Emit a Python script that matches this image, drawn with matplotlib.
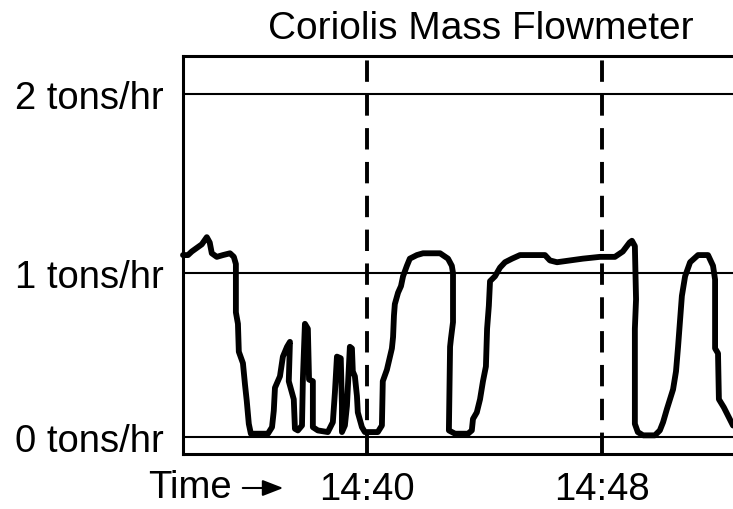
import numpy as np
import matplotlib
matplotlib.use("Agg")
import matplotlib.pyplot as plt
from matplotlib.patches import FancyArrowPatch

plt.rcParams['font.family'] = ['Liberation Sans', 'DejaVu Sans']

# time in minutes after 14:00
time_min = [33.74, 33.91, 34.04, 34.21, 34.38, 34.55, 34.65, 34.72, 34.89, 35.10,
            35.34, 35.47, 35.54, 35.54, 35.54, 35.61, 35.64, 35.78, 35.85, 35.91,
            35.98, 36.05, 36.63, 36.77, 36.83, 36.87, 37.04, 37.14, 37.28, 37.38,
            37.34, 37.51, 37.55, 37.65, 37.79, 37.82, 37.89, 37.99, 38.03, 38.16,
            38.16, 38.33, 38.67, 38.84, 38.91, 38.98, 39.11, 39.15, 39.15, 39.25,
            39.32, 39.42, 39.49, 39.52, 39.59, 39.66, 39.69, 39.83, 39.93, 40.37,
            40.51, 40.54, 40.68, 40.85, 40.89, 40.92, 40.95, 41.06, 41.16, 41.23,
            41.36, 41.46, 41.70, 41.91, 42.49, 42.76, 42.89, 42.93, 42.93, 42.86,
            42.83, 42.79, 43.00, 43.44, 43.57, 43.61, 43.74, 43.85, 43.95, 44.05,
            44.09, 44.15, 44.19, 44.36, 44.53, 44.70, 44.94, 45.21, 46.06, 46.23,
            46.47, 47.35, 47.93, 48.44, 48.71, 48.94, 49.02, 49.12, 49.16, 49.12,
            49.12, 49.22, 49.40, 49.80, 49.97, 50.08, 50.21, 50.42, 50.52, 50.59,
            50.66, 50.72, 50.83, 51.00, 51.27, 51.61, 51.78, 51.85, 51.85, 51.95,
            51.98, 52.15, 52.29, 52.46]
flow = [1.10, 1.10, 1.12, 1.14, 1.16, 1.20, 1.17, 1.11, 1.09, 1.10,
        1.11, 1.09, 1.05, 0.89, 0.76, 0.69, 0.52, 0.45, 0.32, 0.22,
        0.08, 0.02, 0.02, 0.06, 0.16, 0.30, 0.37, 0.49, 0.55, 0.58,
        0.34, 0.23, 0.05, 0.04, 0.07, 0.35, 0.69, 0.66, 0.35, 0.34,
        0.06, 0.04, 0.03, 0.09, 0.27, 0.49, 0.48, 0.19, 0.03, 0.07,
        0.19, 0.55, 0.54, 0.40, 0.37, 0.25, 0.15, 0.06, 0.03, 0.03,
        0.07, 0.34, 0.41, 0.54, 0.61, 0.74, 0.81, 0.88, 0.92, 0.98,
        1.04, 1.08, 1.10, 1.11, 1.11, 1.08, 1.04, 1.00, 0.70, 0.60,
        0.55, 0.04, 0.02, 0.02, 0.04, 0.11, 0.15, 0.23, 0.34, 0.43,
        0.66, 0.80, 0.95, 0.98, 1.03, 1.06, 1.08, 1.10, 1.10, 1.07,
        1.06, 1.08, 1.09, 1.09, 1.12, 1.17, 1.18, 1.15, 0.84, 0.66,
        0.08, 0.03, 0.01, 0.01, 0.04, 0.09, 0.17, 0.29, 0.40, 0.55,
        0.72, 0.86, 0.98, 1.06, 1.10, 1.10, 1.04, 0.96, 0.54, 0.51,
        0.23, 0.18, 0.13, 0.07]

grid_levels = [0, 1, 2]
grid_labels = ['0 tons/hr', '1 tons/hr', '2 tons/hr']
marker_times = [40, 48]
marker_labels = ['14:40', '14:48']

# the original chart spaces the 1 -> 2 tons/hr band slightly wider
scale_src = [-1, 0, 1, 2, 3]
scale_dst = [-1, 0, 1, 2.0915, 3.183]

def fwd(y):
    return np.interp(y, scale_src, scale_dst)

def inv(y):
    return np.interp(y, scale_dst, scale_src)

fig = plt.figure(figsize=(7.33, 5.10), dpi=100)
ax = fig.add_axes([183/733, 55/510, 1 - 183/733, 398/510])
ax.set_yscale('function', functions=(fwd, inv))

for g in grid_levels:
    ax.axhline(g, color='black', lw=1.5, zorder=1)
for t in marker_times:
    ax.axvline(t, color='black', lw=2.8, dashes=(5.5, 3.2), zorder=1)

ax.plot(time_min, flow, color='black', lw=4.2, solid_joinstyle='round',
        solid_capstyle='round', zorder=3, clip_on=False)

ax.set_xlim(33.74, 52.46)
ax.set_ylim(-0.1037, 2.212)

for s in ['left', 'top', 'bottom']:
    ax.spines[s].set_linewidth(2.2)
ax.spines['right'].set_visible(False)

ax.set_yticks(grid_levels)
ax.set_yticklabels(grid_labels, fontsize=27.5)
ax.set_xticks(marker_times)
ax.set_xticklabels(marker_labels, fontsize=27.5)
ax.tick_params(axis='y', length=0, pad=14)
ax.tick_params(axis='x', length=0, pad=12)

fig.text(481/733, 1 - 29/510, 'Coriolis Mass Flowmeter', ha='center', va='center',
         fontsize=28)
fig.text(148/733, 1 - 488/510, 'Time', ha='left', va='center', fontsize=27.5)
fig.add_artist(FancyArrowPatch(
    (240/733, 1 - 489/510), (286/733, 1 - 489/510), transform=fig.transFigure,
    arrowstyle='-|>,head_length=0.9,head_width=0.35', mutation_scale=14,
    color='black', lw=1.5))

fig.savefig('out.png', dpi=100)
